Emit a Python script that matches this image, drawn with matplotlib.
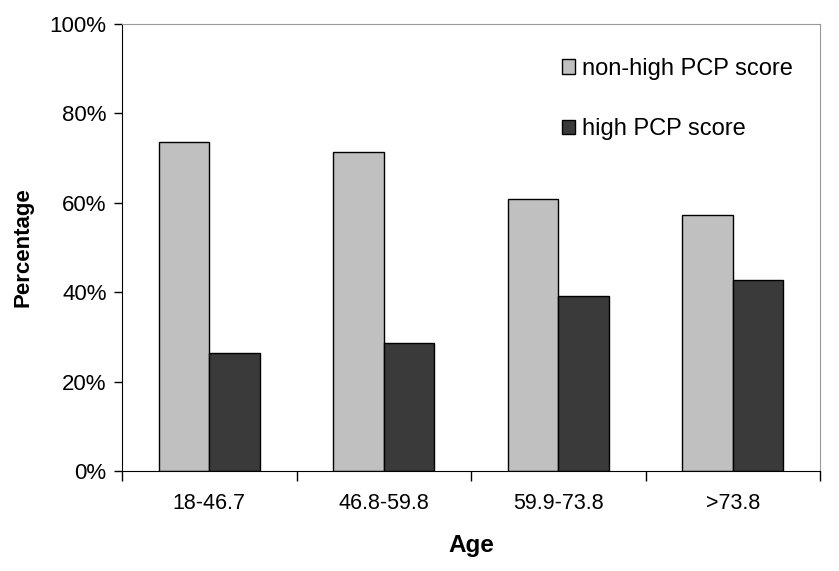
import numpy as np
import matplotlib.pyplot as plt
from matplotlib.ticker import FixedLocator, PercentFormatter

plt.rcParams['font.family'] = ['Liberation Sans', 'DejaVu Sans']

age_groups = ['18-46.7', '46.8-59.8', '59.9-73.8', '>73.8']
non_high = [73.6, 71.4, 60.8, 57.2]
high = [26.4, 28.6, 39.1, 42.7]
series_names = ['non-high PCP score', 'high PCP score']

fig = plt.figure(figsize=(8.39, 5.71), dpi=100)
ax = fig.add_axes([0.1454, 0.1751, 0.9774 - 0.1454, 0.958 - 0.1751])

x = np.arange(len(age_groups))
w = 0.29
ax.bar(x - w / 2, non_high, w, color='#c0c0c0', edgecolor='black', linewidth=1.0, label=series_names[0])
ax.bar(x + w / 2, high, w, color='#3a3a3a', edgecolor='black', linewidth=1.0, label=series_names[1])

ax.set_xlim(-0.5, len(age_groups) - 0.5)
ax.set_ylim(0, 100)
ax.set_yticks([0, 20, 40, 60, 80, 100])
ax.yaxis.set_major_formatter(PercentFormatter(decimals=0))
ax.set_xticks(x)
ax.set_xticklabels(age_groups, fontsize=15.5)
ax.tick_params(axis='x', which='major', length=0, pad=16)
# ticks between the age groups
ax.xaxis.set_minor_locator(FixedLocator(np.arange(-0.5, len(age_groups), 1.0)))
ax.tick_params(axis='x', which='minor', length=7, width=1, direction='out')
ax.tick_params(axis='y', length=6, width=1, labelsize=16, pad=5)

for s in ['top', 'right']:
    ax.spines[s].set_color('#999999')
ax.spines['left'].set_color('black')
ax.spines['bottom'].set_color('black')

ax.set_xlabel('Age', fontsize=17.5, fontweight='bold', labelpad=14)
ax.set_ylabel('Percentage', fontsize=16, fontweight='bold', labelpad=12)

ax.legend(loc='upper right', bbox_to_anchor=(0.992, 0.972), frameon=False, fontsize=17,
          handlelength=0.55, handleheight=0.55, handletextpad=0.3, labelspacing=1.62)

fig.savefig('out.png', dpi=100)
